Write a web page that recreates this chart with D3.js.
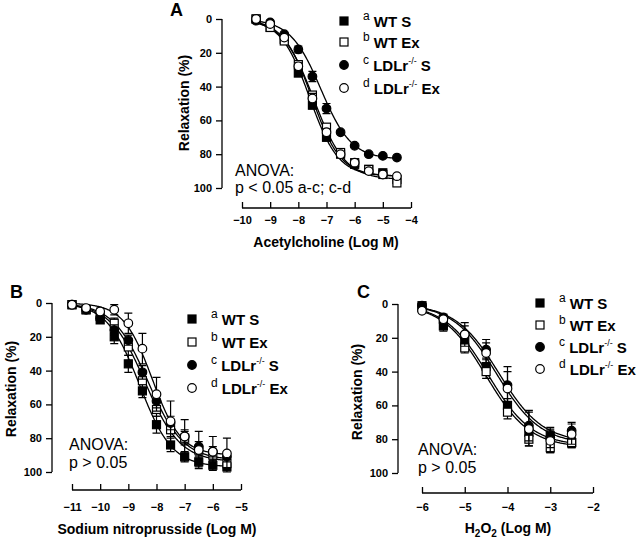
<!DOCTYPE html>
<html><head><meta charset="utf-8">
<script src="https://cdn.jsdelivr.net/npm/d3@7"></script>
<style>body{margin:0;background:#fff}svg{display:block}</style>
</head><body>
<svg id="c" width="637" height="544"></svg>
<script>
// ---------- DATA ----------
const groupLetters = ["a","b","c","d"];
const groupNames = ["WT S","WT Ex","LDLr S","LDLr Ex"];

// Panel A: Acetylcholine
const doseA = [-9.5,-9,-8.5,-8,-7.5,-7,-6.5,-6,-5.5,-5,-4.5];
const wtS_A   = [0,5,12,32,51,70,80,86,89,91,95];
const wtEx_A  = [0,5,13,27,45,64,79,85,89,92,97];
const koS_A   = [1,2,9,18,34,53,67,75,80,81,82];
const koEx_A  = [0,3,11,28,47,67,80,85,90,92,93];
const semWtS_A  = [1,1,1,2,2,2,1,1,1,1,1];
const semWtEx_A = [1,1,1,2,2,2,1,1,1,1,2];
const semKoS_A  = [1,1,1,2,3,3,1,1,1,1,1];
const semKoEx_A = [1,1,1,2,3,2,1,1,1,1,1];
const fitTopA  = [93,95,83,93];
const fitEC50A = [-7.6,-7.45,-7.2,-7.52];
const fitHillA = [0.85,0.78,0.8,0.85];
const ticksXA = [-10,-9,-8,-7,-6,-5,-4];

// Panel B: Sodium nitroprusside
const doseB = [-11,-10.5,-10,-9.5,-9,-8.5,-8,-7.5,-7,-6.5,-6,-5.5];
const wtS_B   = [1,4,10,20,36,52,72,84,91,94,96,97];
const wtEx_B  = [1,4,8,12,26,46,63,75,80,87,90,95];
const koS_B   = [1,4,9,16,22,41,58,71,79,85,88,91];
const koEx_B  = [1,3,5,4,12,27,54,70,79,87,88,89];
const semWtS_B  = [1,1,2,4,5,4,5,4,3,3,3,3];
const semWtEx_B = [1,1,2,3,5,4,4,4,4,3,3,3];
const semKoS_B  = [1,1,2,3,3,4,4,4,4,3,3,3];
const semKoEx_B = [1,1,2,3,6,9,10,12,10,11,9,9];
const fitTopB  = [97,94,93,90];
const fitEC50B = [-8.6,-8.4,-8.3,-8.15];
const fitHillB = [0.75,0.7,0.7,0.85];
const ticksXB = [-11,-10,-9,-8,-7,-6,-5];

// Panel C: H2O2
const doseC = [-6,-5.5,-5,-4.5,-4,-3.5,-3,-2.5];
const wtS_C   = [1,13,22,37,60,76,78,82];
const wtEx_C  = [2,9,26,40,64,80,85,82];
const koS_C   = [1,8,18,27,48,72,79,75];
const koEx_C  = [4,9,18,29,50,74,81,77];
const semWtS_C  = [1,3,3,5,4,4,3,3];
const semWtEx_C = [1,2,3,4,4,4,3,3];
const semKoS_C  = [1,2,5,6,11,9,6,5];
const semKoEx_C = [1,2,7,6,10,10,7,6];
const fitTopC  = [84,85,82,83];
const fitEC50C = [-4.45,-4.5,-4.2,-4.25];
const fitHillC = [0.85,0.85,0.85,0.85];
const ticksXC = [-6,-5,-4,-3,-2];

const ticksY = [0,20,40,60,80,100];

// ---------- LAYOUT ----------
const panels = [
  {label:"A", lx:170, ly:16, dose:doseA, vals:[wtS_A,wtEx_A,koS_A,koEx_A], sem:[semWtS_A,semWtEx_A,semKoS_A,semKoEx_A],
   top:fitTopA, ec:fitEC50A, hill:fitHillA, ticks:ticksXA, xd:[-10,-4], xr:[242,411], yr:[19,188], yAxisX:222, xAxisY:208, xpad:8,
   ytx:189, yty:103, xtitle:"Acetylcholine (Log M)", xtx:326, xty:247, leg:{x:344, y:[21,42,65,88]},
   anova:["ANOVA:","p < 0.05 a-c; c-d"], ax:235, ay:[176,193]},
  {label:"B", lx:10, ly:298, dose:doseB, vals:[wtS_B,wtEx_B,koS_B,koEx_B], sem:[semWtS_B,semWtEx_B,semKoS_B,semKoEx_B],
   top:fitTopB, ec:fitEC50B, hill:fitHillB, ticks:ticksXB, xd:[-11,-5], xr:[72,241], yr:[303,472], yAxisX:52, xAxisY:490, xpad:13,
   ytx:16, yty:389, xtitle:"Sodium nitroprusside (Log M)", xtx:157, xty:534, leg:{x:192, y:[319,342,365,388]},
   anova:["ANOVA:","p > 0.05"], ax:69, ay:[450,468]},
  {label:"C", lx:357, ly:298, dose:doseC, vals:[wtS_C,wtEx_C,koS_C,koEx_C], sem:[semWtS_C,semWtEx_C,semKoS_C,semKoEx_C],
   top:fitTopC, ec:fitEC50C, hill:fitHillC, ticks:ticksXC, xd:[-6,-2], xr:[422,593], yr:[304,473], yAxisX:398, xAxisY:493, xpad:10,
   ytx:362, yty:392, xtitle:"H2O2", xtx:508, xty:533, leg:{x:540, y:[303,325,347,369]},
   anova:["ANOVA:","p > 0.05"], ax:418, ay:[455,473]}
];

const svg = d3.select("#c");
const FONT = "Liberation Sans, Arial, Helvetica, sans-serif";
const fills = ["#000","#fff","#000","#fff"];
const shapes = ["sq","sq","ci","ci"];

function marker(g, shape, fill, x, y){
  if(shape==="sq"){
    g.append("rect").attr("x",x-4).attr("y",y-4).attr("width",8).attr("height",8)
     .attr("fill",fill).attr("stroke","#000").attr("stroke-width",1.2);
  } else {
    g.append("circle").attr("cx",x).attr("cy",y).attr("r",4.3)
     .attr("fill",fill).attr("stroke","#000").attr("stroke-width",1.2);
  }
}

panels.forEach(p=>{
  const g = svg.append("g");
  const x = d3.scaleLinear().domain(p.xd).range(p.xr);
  const y = d3.scaleLinear().domain([0,100]).range(p.yr);

  g.append("text").attr("x",p.lx).attr("y",p.ly).text(p.label)
   .attr("font-family",FONT).attr("font-weight","bold").attr("font-size",18);

  const ya = g.append("g").attr("transform",`translate(${p.yAxisX},0)`)
    .call(d3.axisLeft(y).tickValues(ticksY).tickSize(6).tickPadding(4));
  ya.selectAll("text").attr("font-family",FONT).attr("font-weight","bold").attr("font-size",11);
  ya.select(".domain").attr("d",`M0,${p.yr[0]}V${p.yr[1]}`).attr("stroke-width",1.3);
  ya.selectAll(".tick line").attr("stroke-width",1.3);

  const xa = g.append("g").attr("transform",`translate(0,${p.xAxisY})`)
    .call(d3.axisBottom(x).tickValues(p.ticks).tickSize(-6).tickPadding(p.xpad).tickFormat(d3.format("d")));
  xa.selectAll("text").attr("font-family",FONT).attr("font-weight","bold").attr("font-size",11);
  xa.select(".domain").attr("d",`M${p.xr[0]},0H${p.xr[1]}`).attr("stroke-width",1.3);
  xa.selectAll(".tick line").attr("stroke-width",1.3);

  g.append("text").attr("transform",`translate(${p.ytx},${p.yty}) rotate(-90)`)
   .attr("text-anchor","middle").attr("font-family",FONT).attr("font-weight","bold").attr("font-size",14)
   .text("Relaxation (%)");

  const xt = g.append("text").attr("x",p.xtx).attr("y",p.xty).attr("text-anchor","middle")
   .attr("font-family",FONT).attr("font-weight","bold").attr("font-size",14);
  if(p.xtitle==="H2O2"){
    xt.append("tspan").text("H");
    xt.append("tspan").text("2").attr("font-size",10).attr("dy",4);
    xt.append("tspan").text("O").attr("dy",-4);
    xt.append("tspan").text("2").attr("font-size",10).attr("dy",4);
    xt.append("tspan").text(" (Log M)").attr("dy",-4);
  } else xt.text(p.xtitle);

  p.anova.forEach((t,i)=>{
    g.append("text").attr("x",p.ax).attr("y",p.ay[i]).text(t)
     .attr("font-family",FONT).attr("font-size",16);
  });

  const line = d3.line().x(d=>x(d[0])).y(d=>y(d[1]));
  const x0 = d3.min(p.dose), x1 = d3.max(p.dose);
  for(let s=0;s<4;s++){
    const pts = d3.range(0,201).map(i=>{
      const xv = x0 + (x1-x0)*i/200;
      return [xv, p.top[s]/(1+Math.pow(10,(p.ec[s]-xv)*p.hill[s]))];
    });
    g.append("path").attr("d",line(pts)).attr("fill","none").attr("stroke","#000").attr("stroke-width",1.3);
  }

  for(let s=0;s<4;s++){
    const sg = g.append("g");
    p.dose.forEach((d,i)=>{
      const v = p.vals[s][i], e = p.sem[s][i];
      const cx = x(d);
      if(e>1.5){
        sg.append("path").attr("d",`M${cx},${y(v-e)}V${y(v+e)}M${cx-4},${y(v-e)}H${cx+4}M${cx-4},${y(v+e)}H${cx+4}`)
          .attr("stroke","#000").attr("stroke-width",1.2).attr("fill","none");
      }
      marker(sg, shapes[s], fills[s], cx, y(v));
    });
  }

  for(let s=0;s<4;s++){
    const ly = p.leg.y[s];
    marker(g, shapes[s], fills[s], p.leg.x, ly);
    const t = g.append("text").attr("x",p.leg.x+19).attr("y",ly+6)
      .attr("font-family",FONT).attr("font-size",15).attr("font-weight","bold");
    t.append("tspan").text(groupLetters[s]).attr("font-weight","normal").attr("font-size",12).attr("dy",-7);
    if(s<2){
      t.append("tspan").text(" " + groupNames[s]).attr("dy",7);
    } else {
      t.append("tspan").text(" LDLr").attr("dy",7);
      t.append("tspan").text("-/-").attr("font-size",9).attr("font-weight","normal").attr("dy",-7);
      t.append("tspan").text(groupNames[s].replace("LDLr","")).attr("dy",7);
    }
  }
});
</script>
</body></html>
